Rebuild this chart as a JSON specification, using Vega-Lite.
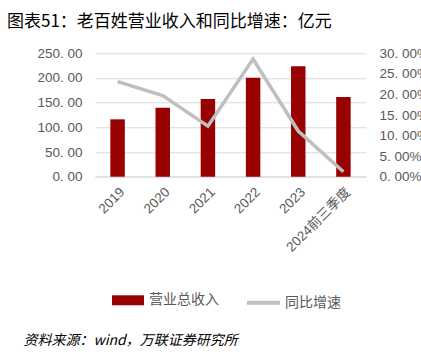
{
  "$schema": "https://vega.github.io/schema/vega-lite/v6.json",
  "width": 271,
  "height": 123.4,
  "autosize": {"type": "none"},
  "padding": {"left": 95, "top": 53.3, "right": 55, "bottom": 177.3},
  "background": "white",
  "config": {
    "view": {"stroke": null},
    "font": "Liberation Sans",
    "legend": {
      "orient": "none",
      "direction": "horizontal",
      "labelFont": "Noto Sans CJK SC",
      "labelFontSize": 14,
      "labelColor": "#595959",
      "labelOffset": 5
    }
  },
  "title": {
    "text": "图表51：老百姓营业收入和同比增速：亿元",
    "anchor": "start",
    "frame": "group",
    "dx": -88,
    "font": "Noto Sans CJK SC",
    "fontSize": 17,
    "fontWeight": "normal",
    "color": "#000000",
    "offset": 15
  },
  "data": {
    "values": [
      {"year": "2019", "revenue": 116.2, "growth": 0.231},
      {"year": "2020", "revenue": 139.7, "growth": 0.197},
      {"year": "2021", "revenue": 157.3, "growth": 0.123},
      {"year": "2022", "revenue": 200.4, "growth": 0.286},
      {"year": "2023", "revenue": 224.0, "growth": 0.111},
      {"year": "2024前三季度", "revenue": 161.5, "growth": 0.012}
    ]
  },
  "encoding": {
    "x": {
      "field": "year",
      "type": "nominal",
      "sort": null,
      "scale": {"paddingInner": 0.68, "paddingOuter": 0.34},
      "axis": {
        "title": "资料来源：wind，万联证券研究所",
        "titleAnchor": "start",
        "titleX": -72,
        "titleY": 168,
        "titleBaseline": "alphabetic",
        "titleFont": "Noto Sans CJK SC",
        "titleFontSize": 14,
        "titleFontStyle": "italic",
        "titleFontWeight": "normal",
        "titleColor": "#000000",
        "labelAngle": -45,
        "labelFont": "Liberation Sans, Noto Sans CJK SC",
        "labelFontSize": 13.5,
        "labelColor": "#595959",
        "labelPadding": 8,
        "ticks": false,
        "domainColor": "#D9D9D9",
        "domainWidth": 1
      }
    }
  },
  "layer": [
    {
      "mark": {"type": "bar"},
      "encoding": {
        "y": {
          "field": "revenue",
          "type": "quantitative",
          "scale": {"domain": [0, 250]},
          "axis": {
            "orient": "left",
            "title": null,
            "values": [0, 50, 100, 150, 200, 250],
            "labelExpr": "replace(format(datum.value, '.2f'), '.', '. ')",
            "labelFontSize": 13.5,
            "labelColor": "#595959",
            "labelPadding": 13,
            "ticks": false,
            "domain": false,
            "grid": true,
            "gridColor": "#D9D9D9",
            "gridWidth": 1
          }
        },
        "fill": {
          "datum": "营业总收入",
          "scale": {"range": ["#990000"]},
          "legend": {
            "title": null,
            "orient": "none",
            "legendX": 17,
            "legendY": 231,
            "symbolType": "M-1,-0.3125H1V0.3125H-1Z",
            "symbolSize": 1024,
            "symbolStrokeWidth": 0
          }
        }
      }
    },
    {
      "mark": {"type": "line", "strokeWidth": 3.5},
      "encoding": {
        "x": {"field": "year", "type": "nominal", "sort": null, "bandPosition": 0.5},
        "y": {
          "field": "growth",
          "type": "quantitative",
          "scale": {"domain": [0, 0.3]},
          "axis": {
            "orient": "right",
            "title": null,
            "values": [0, 0.05, 0.1, 0.15, 0.2, 0.25, 0.3],
            "labelExpr": "replace(format(datum.value, '.2%'), '.', '. ')",
            "labelFontSize": 13.5,
            "labelColor": "#595959",
            "labelPadding": 13,
            "ticks": false,
            "domain": false,
            "grid": false
          }
        },
        "stroke": {
          "datum": "同比增速",
          "scale": {"range": ["#BFBFBF"]},
          "legend": {
            "title": null,
            "orient": "none",
            "legendX": 150,
            "legendY": 231,
            "labelOffset": 3,
            "symbolType": "stroke",
            "symbolSize": 1089,
            "symbolStrokeWidth": 4
          }
        }
      }
    }
  ],
  "resolve": {"scale": {"y": "independent"}}
}
